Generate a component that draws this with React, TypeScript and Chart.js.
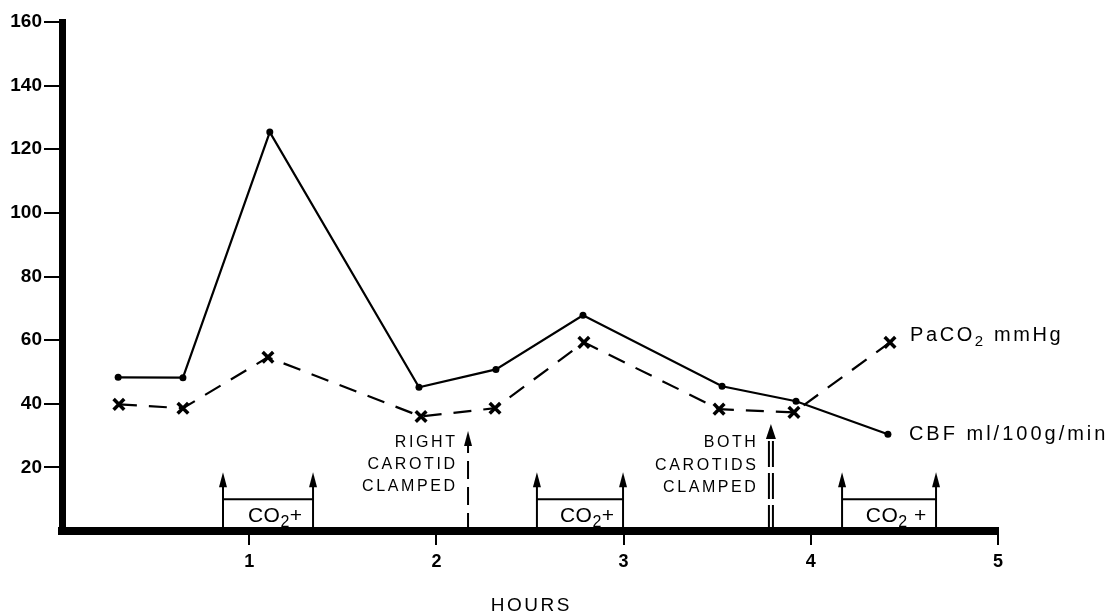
import React, { useEffect, useRef } from 'react';
import { Chart, registerables } from 'chart.js';

Chart.register(...registerables);

// ---- data ----
const cbfHours = [0.3, 0.646, 1.11, 1.907, 2.318, 2.783, 3.526, 3.921, 4.412];
const cbfValues = [48.3, 48.2, 125.4, 45.2, 50.8, 67.8, 45.5, 40.8, 30.4];
const paco2Hours = [0.304, 0.646, 1.1, 1.918, 2.313, 2.788, 3.51, 3.91, 4.423];
const paco2Values = [39.8, 38.6, 54.6, 36.0, 38.6, 59.3, 38.3, 37.3, 59.3];
const seriesNames = ['CBF ml/100g/min', 'PaCO2 mmHg'];

const co2Starts = [0.86, 2.537, 4.167];
const co2Ends = [1.341, 2.997, 4.669];
const co2Labels = ['CO2+', 'CO2+', 'CO2 +'];
const co2BoxTop = 10;
const co2ArrowTop = 18.5;

const rightClampHour = 2.169;
const rightClampTop = 31.4;
const rightClampText = ['RIGHT', 'CAROTID', 'CLAMPED'];
const bothClampHour = 3.787;
const bothClampTop = 33.6;
const bothClampText = ['BOTH', 'CAROTIDS', 'CLAMPED'];

const xTitle = 'HOURS';
const yMin = 0;
const yMax = 160;
const yStep = 20;
const xMin = 0;
const xMax = 5;

const FONT = '"Liberation Sans", Arial, sans-serif';

type Part = { t: string; sub: boolean };
function parseRich(text: string): Part[] {
  const parts: Part[] = [];
  const re = /CO2/g;
  let last = 0;
  let m: RegExpExecArray | null;
  while ((m = re.exec(text))) {
    if (m.index > last) parts.push({ t: text.slice(last, m.index), sub: false });
    parts.push({ t: 'CO', sub: false });
    parts.push({ t: '2', sub: true });
    last = m.index + 3;
  }
  if (last < text.length) parts.push({ t: text.slice(last), sub: false });
  return parts;
}

function drawRich(ctx: CanvasRenderingContext2D, text: string, x: number, y: number, size: number, spacing: number, align: 'left' | 'right' | 'center', weight = 'normal') {
  const parts = parseRich(text);
  const fontFor = (sub: boolean) => `${weight} ${sub ? Math.round(size * 0.75) : size}px ${FONT}`;
  (ctx as any).letterSpacing = spacing + 'px';
  let total = 0;
  const widths = parts.map((p) => {
    ctx.font = fontFor(p.sub);
    const w = ctx.measureText(p.t).width;
    total += w;
    return w;
  });
  const vis = total - spacing;
  let cx = align === 'left' ? x : align === 'right' ? x - vis : x - vis / 2;
  ctx.textAlign = 'left';
  ctx.textBaseline = 'middle';
  parts.forEach((p, i) => {
    ctx.font = fontFor(p.sub);
    ctx.fillText(p.t, cx, p.sub ? y + size * 0.32 : y);
    cx += widths[i];
  });
  (ctx as any).letterSpacing = '0px';
}

function line(ctx: CanvasRenderingContext2D, x1: number, y1: number, x2: number, y2: number) {
  ctx.beginPath();
  ctx.moveTo(x1, y1);
  ctx.lineTo(x2, y2);
  ctx.stroke();
}

function head(ctx: CanvasRenderingContext2D, x: number, tip: number, w: number, h: number) {
  ctx.beginPath();
  ctx.moveTo(x, tip);
  ctx.lineTo(x - w / 2, tip + h);
  ctx.lineTo(x + w / 2, tip + h);
  ctx.closePath();
  ctx.fill();
}

const annotationPlugin = {
  id: 'figureAnnotations',
  afterDatasetsDraw(chart: any) {
    const { ctx, chartArea, scales } = chart;
    const xs = scales.x;
    const ys = scales.y;
    const base = chartArea.bottom;
    ctx.save();
    ctx.strokeStyle = '#000';
    ctx.fillStyle = '#000';
    ctx.lineWidth = 2;
    ctx.setLineDash([]);

    // corner fill of the axes
    ctx.fillRect(chartArea.left - 3.5, base - 4, 5, 8);

    // CO2+ periods
    co2Starts.forEach((s, i) => {
      const x1 = xs.getPixelForValue(s);
      const x2 = xs.getPixelForValue(co2Ends[i]);
      const tip = ys.getPixelForValue(co2ArrowTop);
      const top = ys.getPixelForValue(co2BoxTop);
      [x1, x2].forEach((x) => {
        line(ctx, x, base, x, tip + 10);
        head(ctx, x, tip, 8, 15);
      });
      line(ctx, x1, top, x2, top);
      drawRich(ctx, co2Labels[i], (x1 + x2) / 2 + 7, (top + base) / 2 + 1, 21, 0.5, 'center');
    });

    // right carotid clamped
    {
      const x = xs.getPixelForValue(rightClampHour);
      const tip = ys.getPixelForValue(rightClampTop);
      ctx.setLineDash([18, 8]);
      line(ctx, x, base, x, tip + 10);
      ctx.setLineDash([]);
      head(ctx, x, tip, 8, 15);
      rightClampText.forEach((t, i) => {
        drawRich(ctx, t, x - 13, base - 88 + i * 22, 16, 2.6, 'right');
      });
    }

    // both carotids clamped
    {
      const x = xs.getPixelForValue(bothClampHour);
      const tip = ys.getPixelForValue(bothClampTop);
      ctx.setLineDash([26, 6]);
      line(ctx, x - 2, base, x - 2, tip + 10);
      line(ctx, x + 2, base, x + 2, tip + 10);
      ctx.setLineDash([]);
      head(ctx, x, tip, 10, 15);
      bothClampText.forEach((t, i) => {
        drawRich(ctx, t, x - 15, base - 88 + i * 22.5, 16, 2.6, 'right');
      });
    }

    // series labels next to the last points
    {
      const lx = xs.getPixelForValue(paco2Hours[paco2Hours.length - 1]);
      const ly = ys.getPixelForValue(paco2Values[paco2Values.length - 1]);
      drawRich(ctx, seriesNames[1], lx + 20, ly - 7, 20, 2.6, 'left');
      const cx = xs.getPixelForValue(cbfHours[cbfHours.length - 1]);
      const cy = ys.getPixelForValue(cbfValues[cbfValues.length - 1]);
      drawRich(ctx, seriesNames[0], cx + 21, cy, 20, 3, 'left');
    }

    // axis title
    drawRich(ctx, xTitle, (chartArea.left + chartArea.right) / 2, 606, 19, 2.5, 'center');

    ctx.restore();
  },
};

export default function App() {
  const ref = useRef<HTMLCanvasElement | null>(null);

  useEffect(() => {
    document.body.style.margin = '0';
    const canvas = ref.current;
    if (!canvas) return;
    const hideZero = (c: any) => (c.tick && c.tick.value === 0 ? 'rgba(0,0,0,0)' : '#000');
    const chart = new Chart(canvas, {
      type: 'line',
      data: {
        datasets: [
          {
            label: seriesNames[0],
            data: cbfHours.map((h, i) => ({ x: h, y: cbfValues[i] })),
            borderColor: '#000',
            backgroundColor: '#000',
            borderWidth: 2.2,
            pointStyle: 'circle',
            pointRadius: 3.5,
            pointBorderWidth: 0,
            pointBackgroundColor: '#000',
            tension: 0,
          },
          {
            label: seriesNames[1],
            data: paco2Hours.map((h, i) => ({ x: h, y: paco2Values[i] })),
            borderColor: '#000',
            backgroundColor: '#000',
            borderWidth: 2.2,
            borderDash: [18, 12],
            pointStyle: 'crossRot',
            pointRadius: 7.5,
            pointBorderWidth: 3.5,
            pointBorderColor: '#000',
            tension: 0,
          },
        ],
      },
      options: {
        animation: false,
        responsive: false,
        maintainAspectRatio: false,
        devicePixelRatio: 1,
        layout: { padding: { top: 22, right: 116, left: 0, bottom: 0 } },
        plugins: { legend: { display: false }, tooltip: { enabled: false } },
        scales: {
          x: {
            type: 'linear',
            min: xMin,
            max: xMax,
            afterFit: (s: any) => {
              s.height = 83;
            },
            ticks: {
              stepSize: 1,
              color: '#000',
              padding: 6,
              font: { family: FONT, size: 18, weight: 'bold' },
              callback: (v: any) => (v === 0 ? '' : String(v)),
            },
            grid: {
              drawOnChartArea: false,
              drawTicks: true,
              tickLength: 14,
              lineWidth: 2,
              tickWidth: 2,
              color: hideZero,
              tickColor: hideZero,
            },
            border: { display: true, width: 8, color: '#000' },
          },
          y: {
            type: 'linear',
            min: yMin,
            max: yMax,
            afterFit: (s: any) => {
              s.width = 62;
            },
            ticks: {
              stepSize: yStep,
              color: '#000',
              padding: 2,
              font: { family: FONT, size: 19, weight: 'bold' },
              callback: (v: any) => (v === 0 ? '' : String(v)),
            },
            grid: {
              drawOnChartArea: false,
              drawTicks: true,
              tickLength: 18,
              lineWidth: 2,
              tickWidth: 2,
              color: hideZero,
              tickColor: hideZero,
            },
            border: { display: true, width: 7, color: '#000' },
          },
        },
      } as any,
      plugins: [annotationPlugin],
    });
    return () => chart.destroy();
  }, []);

  return (
    <div style={{ width: 1114, height: 614, background: '#fff' }}>
      <canvas ref={ref} width={1114} height={614} style={{ display: 'block' }} />
    </div>
  );
}
